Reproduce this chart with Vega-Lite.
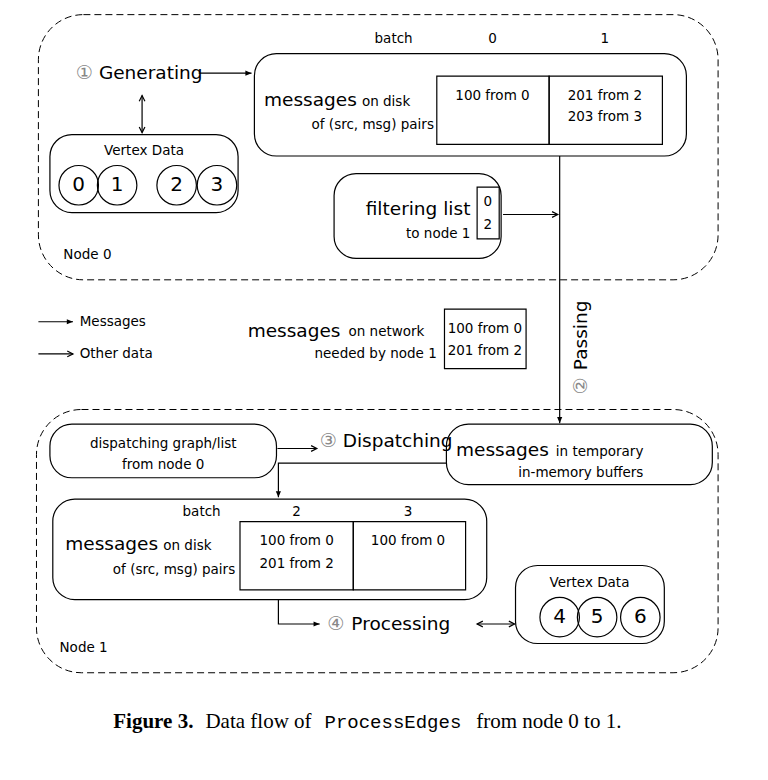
{
  "$schema": "https://vega.github.io/schema/vega-lite/v6.json",
  "width": 768,
  "height": 780,
  "padding": 0,
  "autosize": {"type": "fit", "contains": "padding"},
  "background": "white",
  "config": {"view": {"stroke": null}, "text": {"font": "DejaVu Sans", "baseline": "middle", "color": "black"}},
  "datasets": {
    "boxes": [
      {"x": 40, "x2": 748, "y": 15, "y2": 287, "k": "dash"},
      {"x": 38, "x2": 748, "y": 420, "y2": 690, "k": "dash"},
      {"x": 265, "x2": 715, "y": 55, "y2": 160, "k": "round"},
      {"x": 52, "x2": 248, "y": 138, "y2": 218, "k": "round"},
      {"x": 348, "x2": 522, "y": 178, "y2": 265, "k": "round"},
      {"x": 52, "x2": 288, "y": 435, "y2": 490, "k": "round"},
      {"x": 465, "x2": 742, "y": 435, "y2": 497, "k": "round"},
      {"x": 55, "x2": 507, "y": 512, "y2": 615, "k": "round"},
      {"x": 537, "x2": 692, "y": 580, "y2": 660, "k": "round"},
      {"x": 455, "x2": 572, "y": 78, "y2": 148, "k": "table"},
      {"x": 572, "x2": 690, "y": 78, "y2": 148, "k": "table"},
      {"x": 497, "x2": 520, "y": 192, "y2": 245, "k": "table"},
      {"x": 463, "x2": 548, "y": 317, "y2": 378, "k": "table"},
      {"x": 250, "x2": 368, "y": 535, "y2": 605, "k": "table"},
      {"x": 368, "x2": 485, "y": 535, "y2": 605, "k": "table"}
    ],
    "circles": [
      {"x": 82, "y": 190, "t": "0"}, {"x": 122, "y": 190, "t": "1"},
      {"x": 184, "y": 190, "t": "2"}, {"x": 226, "y": 190, "t": "3"},
      {"x": 583, "y": 633, "t": "4"}, {"x": 622, "y": 633, "t": "5"},
      {"x": 667, "y": 633, "t": "6"}
    ],
    "lines": [
      {"id": "gen", "o": 0, "x": 207, "y": 75}, {"id": "gen", "o": 1, "x": 262, "y": 75},
      {"id": "vd", "o": 0, "x": 148, "y": 98}, {"id": "vd", "o": 1, "x": 148, "y": 136},
      {"id": "fl", "o": 0, "x": 524, "y": 220}, {"id": "fl", "o": 1, "x": 581, "y": 220},
      {"id": "pass", "o": 0, "x": 583, "y": 160}, {"id": "pass", "o": 1, "x": 583, "y": 434},
      {"id": "dg", "o": 0, "x": 289, "y": 460}, {"id": "dg", "o": 1, "x": 330, "y": 460},
      {"id": "buf", "o": 0, "x": 465, "y": 475}, {"id": "buf", "o": 1, "x": 290, "y": 475}, {"id": "buf", "o": 2, "x": 290, "y": 510},
      {"id": "proc", "o": 0, "x": 290, "y": 615}, {"id": "proc", "o": 1, "x": 290, "y": 640}, {"id": "proc", "o": 2, "x": 333, "y": 640},
      {"id": "pv", "o": 0, "x": 497, "y": 640}, {"id": "pv", "o": 1, "x": 536, "y": 640},
      {"id": "lg1", "o": 0, "x": 40, "y": 330}, {"id": "lg1", "o": 1, "x": 76, "y": 330},
      {"id": "lg2", "o": 0, "x": 40, "y": 363}, {"id": "lg2", "o": 1, "x": 76, "y": 363}
    ],
    "heads": [
      {"x": 262, "y": 75, "a": 0, "k": "fill"},
      {"x": 583, "y": 434, "a": 90, "k": "fill"},
      {"x": 290, "y": 510, "a": 90, "k": "fill"},
      {"x": 333, "y": 640, "a": 0, "k": "fill"},
      {"x": 76, "y": 330, "a": 0, "k": "fill"},
      {"x": 148, "y": 98, "a": 270, "k": "open"},
      {"x": 148, "y": 136, "a": 90, "k": "open"},
      {"x": 581, "y": 220, "a": 0, "k": "open"},
      {"x": 330, "y": 460, "a": 0, "k": "open"},
      {"x": 497, "y": 640, "a": 180, "k": "open"},
      {"x": 536, "y": 640, "a": 0, "k": "open"},
      {"x": 76, "y": 363, "a": 0, "k": "open"}
    ],
    "texts": [
      {"x": 103, "y": 75, "t": "Generating", "g": "L20"},
      {"x": 275, "y": 103, "t": "messages", "g": "L20"},
      {"x": 258, "y": 339, "t": "messages", "g": "L20"},
      {"x": 475, "y": 462, "t": "messages", "g": "L20"},
      {"x": 68, "y": 558, "t": "messages", "g": "L20"},
      {"x": 357, "y": 452, "t": "Dispatching", "g": "L20"},
      {"x": 366, "y": 640, "t": "Processing", "g": "L20"},
      {"x": 490, "y": 214, "t": "filtering list", "g": "R20"},
      {"x": 79, "y": 75, "t": "①", "g": "G"},
      {"x": 333, "y": 452, "t": "③", "g": "G"},
      {"x": 341, "y": 640, "t": "④", "g": "G"},
      {"x": 377, "y": 105, "t": "on disk", "g": "L14"},
      {"x": 363, "y": 341, "t": "on network", "g": "L14"},
      {"x": 579, "y": 464, "t": "in temporary", "g": "L14"},
      {"x": 170, "y": 560, "t": "on disk", "g": "L14"},
      {"x": 83, "y": 330, "t": "Messages", "g": "L14"},
      {"x": 83, "y": 363, "t": "Other data", "g": "L14"},
      {"x": 66, "y": 262, "t": "Node 0", "g": "L14"},
      {"x": 62, "y": 665, "t": "Node 1", "g": "L14"},
      {"x": 452, "y": 128, "t": "of (src, msg) pairs", "g": "R14"},
      {"x": 245, "y": 585, "t": "of (src, msg) pairs", "g": "R14"},
      {"x": 490, "y": 240, "t": "to node 1", "g": "R14"},
      {"x": 455, "y": 363, "t": "needed by node 1", "g": "R14"},
      {"x": 410, "y": 40, "t": "batch", "g": "C14"},
      {"x": 210, "y": 525, "t": "batch", "g": "C14"},
      {"x": 150, "y": 155, "t": "Vertex Data", "g": "C14"},
      {"x": 614, "y": 598, "t": "Vertex Data", "g": "C14"},
      {"x": 170, "y": 455, "t": "dispatching graph/list", "g": "C14"},
      {"x": 170, "y": 477, "t": "from node 0", "g": "C14"},
      {"x": 605, "y": 485, "t": "in-memory buffers", "g": "C14"},
      {"x": 513, "y": 40, "t": "0", "g": "C14"},
      {"x": 630, "y": 40, "t": "1", "g": "C14"},
      {"x": 309, "y": 525, "t": "2", "g": "C14"},
      {"x": 425, "y": 525, "t": "3", "g": "C14"},
      {"x": 513, "y": 98, "t": "100 from 0", "g": "C14"},
      {"x": 630, "y": 98, "t": "201 from 2", "g": "C14"},
      {"x": 630, "y": 120, "t": "203 from 3", "g": "C14"},
      {"x": 508, "y": 207, "t": "0", "g": "C14"},
      {"x": 508, "y": 231, "t": "2", "g": "C14"},
      {"x": 505, "y": 337, "t": "100 from 0", "g": "C14"},
      {"x": 505, "y": 360, "t": "201 from 2", "g": "C14"},
      {"x": 309, "y": 555, "t": "100 from 0", "g": "C14"},
      {"x": 309, "y": 578, "t": "201 from 2", "g": "C14"},
      {"x": 425, "y": 555, "t": "100 from 0", "g": "C14"},
      {"x": 605, "y": 344, "t": "Passing", "g": "V"},
      {"x": 605, "y": 396, "t": "②", "g": "VG"},
      {"x": 118, "y": 741, "t": "Figure 3.", "g": "CB"},
      {"x": 214, "y": 741, "t": "Data flow of", "g": "CS"},
      {"x": 496, "y": 741, "t": "from node 0 to 1.", "g": "CS"},
      {"x": 338, "y": 741, "t": "ProcessEdges", "g": "CM"}
    ]
  },
  "layer": [
    {
      "data": {"name": "boxes"},
      "transform": [{"filter": "datum.k == 'dash'"}],
      "mark": {"type": "rect", "fill": null, "stroke": "black", "strokeWidth": 1, "strokeDash": [7, 4], "cornerRadius": 45},
      "encoding": {
        "x": {"field": "x", "type": "quantitative", "scale": {"domain": [0, 768]}, "axis": null},
        "x2": {"field": "x2"},
        "y": {"field": "y", "type": "quantitative", "scale": {"domain": [0, 780], "reverse": true}, "axis": null},
        "y2": {"field": "y2"}
      }
    },
    {
      "data": {"name": "boxes"},
      "transform": [{"filter": "datum.k == 'round'"}],
      "mark": {"type": "rect", "fill": null, "stroke": "black", "strokeWidth": 1.2, "cornerRadius": 22},
      "encoding": {
        "x": {"field": "x", "type": "quantitative"}, "x2": {"field": "x2"},
        "y": {"field": "y", "type": "quantitative"}, "y2": {"field": "y2"}
      }
    },
    {
      "data": {"name": "boxes"},
      "transform": [{"filter": "datum.k == 'table'"}],
      "mark": {"type": "rect", "fill": null, "stroke": "black", "strokeWidth": 1.2},
      "encoding": {
        "x": {"field": "x", "type": "quantitative"}, "x2": {"field": "x2"},
        "y": {"field": "y", "type": "quantitative"}, "y2": {"field": "y2"}
      }
    },
    {
      "data": {"name": "circles"},
      "mark": {"type": "point", "shape": "circle", "size": 1560, "filled": false, "stroke": "black", "strokeWidth": 1.2, "opacity": 1},
      "encoding": {"x": {"field": "x", "type": "quantitative"}, "y": {"field": "y", "type": "quantitative"}}
    },
    {
      "data": {"name": "circles"},
      "mark": {"type": "text", "fontSize": 20, "align": "center"},
      "encoding": {"x": {"field": "x", "type": "quantitative"}, "y": {"field": "y", "type": "quantitative"}, "text": {"field": "t"}}
    },
    {
      "data": {"name": "lines"},
      "mark": {"type": "line", "color": "black", "strokeWidth": 1.2},
      "encoding": {
        "x": {"field": "x", "type": "quantitative"}, "y": {"field": "y", "type": "quantitative"},
        "detail": {"field": "id"}, "order": {"field": "o"}
      }
    },
    {
      "data": {"name": "heads"},
      "transform": [{"filter": "datum.k == 'fill'"}],
      "mark": {"type": "point", "shape": "M-1,-0.42L0,0L-1,0.42Z", "size": 150, "filled": true, "color": "black", "opacity": 1},
      "encoding": {"x": {"field": "x", "type": "quantitative"}, "y": {"field": "y", "type": "quantitative"}, "angle": {"field": "a", "type": "quantitative", "scale": null}}
    },
    {
      "data": {"name": "heads"},
      "transform": [{"filter": "datum.k == 'open'"}],
      "mark": {"type": "point", "shape": "M-1,-0.5L0,0L-1,0.5", "size": 130, "filled": false, "stroke": "black", "strokeWidth": 1.2, "opacity": 1},
      "encoding": {"x": {"field": "x", "type": "quantitative"}, "y": {"field": "y", "type": "quantitative"}, "angle": {"field": "a", "type": "quantitative", "scale": null}}
    },
    {"data": {"name": "texts"}, "transform": [{"filter": "datum.g == 'L20'"}], "mark": {"type": "text", "fontSize": 18.5, "align": "left"},
      "encoding": {"x": {"field": "x", "type": "quantitative"}, "y": {"field": "y", "type": "quantitative"}, "text": {"field": "t"}}},
    {"data": {"name": "texts"}, "transform": [{"filter": "datum.g == 'R20'"}], "mark": {"type": "text", "fontSize": 18.5, "align": "right"},
      "encoding": {"x": {"field": "x", "type": "quantitative"}, "y": {"field": "y", "type": "quantitative"}, "text": {"field": "t"}}},
    {"data": {"name": "texts"}, "transform": [{"filter": "datum.g == 'G'"}], "mark": {"type": "text", "fontSize": 19, "align": "left", "color": "#888"},
      "encoding": {"x": {"field": "x", "type": "quantitative"}, "y": {"field": "y", "type": "quantitative"}, "text": {"field": "t"}}},
    {"data": {"name": "texts"}, "transform": [{"filter": "datum.g == 'L14'"}], "mark": {"type": "text", "fontSize": 13.5, "align": "left"},
      "encoding": {"x": {"field": "x", "type": "quantitative"}, "y": {"field": "y", "type": "quantitative"}, "text": {"field": "t"}}},
    {"data": {"name": "texts"}, "transform": [{"filter": "datum.g == 'R14'"}], "mark": {"type": "text", "fontSize": 13.5, "align": "right"},
      "encoding": {"x": {"field": "x", "type": "quantitative"}, "y": {"field": "y", "type": "quantitative"}, "text": {"field": "t"}}},
    {"data": {"name": "texts"}, "transform": [{"filter": "datum.g == 'C14'"}], "mark": {"type": "text", "fontSize": 13.5, "align": "center"},
      "encoding": {"x": {"field": "x", "type": "quantitative"}, "y": {"field": "y", "type": "quantitative"}, "text": {"field": "t"}}},
    {"data": {"name": "texts"}, "transform": [{"filter": "datum.g == 'V'"}], "mark": {"type": "text", "fontSize": 18.5, "align": "center", "angle": 270},
      "encoding": {"x": {"field": "x", "type": "quantitative"}, "y": {"field": "y", "type": "quantitative"}, "text": {"field": "t"}}},
    {"data": {"name": "texts"}, "transform": [{"filter": "datum.g == 'VG'"}], "mark": {"type": "text", "fontSize": 19, "align": "center", "angle": 270, "color": "#888"},
      "encoding": {"x": {"field": "x", "type": "quantitative"}, "y": {"field": "y", "type": "quantitative"}, "text": {"field": "t"}}},
    {"data": {"name": "texts"}, "transform": [{"filter": "datum.g == 'CB'"}], "mark": {"type": "text", "fontSize": 21, "align": "left", "font": "Liberation Serif", "fontWeight": "bold"},
      "encoding": {"x": {"field": "x", "type": "quantitative"}, "y": {"field": "y", "type": "quantitative"}, "text": {"field": "t"}}},
    {"data": {"name": "texts"}, "transform": [{"filter": "datum.g == 'CS'"}], "mark": {"type": "text", "fontSize": 21, "align": "left", "font": "Liberation Serif"},
      "encoding": {"x": {"field": "x", "type": "quantitative"}, "y": {"field": "y", "type": "quantitative"}, "text": {"field": "t"}}},
    {"data": {"name": "texts"}, "transform": [{"filter": "datum.g == 'CM'"}], "mark": {"type": "text", "fontSize": 19, "align": "left", "font": "Liberation Mono"},
      "encoding": {"x": {"field": "x", "type": "quantitative"}, "y": {"field": "y", "type": "quantitative"}, "text": {"field": "t"}}}
  ]
}
